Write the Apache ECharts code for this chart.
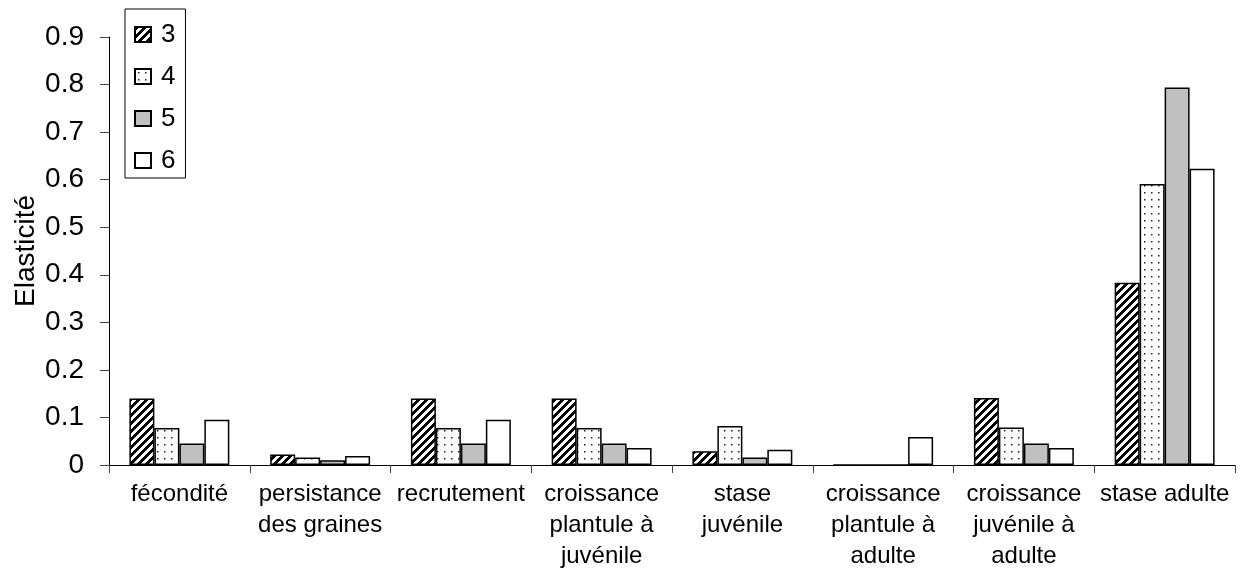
<!DOCTYPE html>
<html>
<head>
<meta charset="utf-8">
<script src="https://cdn.jsdelivr.net/npm/echarts@6/dist/echarts.min.js"></script>
<style>
html,body{margin:0;padding:0;background:#fff;}
#chart{width:1244px;height:576px;}
</style>
</head>
<body>
<div id="chart"></div>
<script>
const categories = ["fécondité", "persistance\ndes graines", "recrutement", "croissance\nplantule à\njuvénile", "stase\njuvénile", "croissance\nplantule à\nadulte", "croissance\njuvénile à\nadulte", "stase adulte"];
const seriesNames = ["3", "4", "5", "6"];
const s3 = [0.140, 0.022, 0.140, 0.140, 0.029, 0, 0.141, 0.383];
const s4 = [0.078, 0.016, 0.078, 0.078, 0.082, 0, 0.079, 0.591];
const s5 = [0.045, 0.010, 0.045, 0.045, 0.016, 0, 0.045, 0.794];
const s6 = [0.095, 0.019, 0.095, 0.036, 0.032, 0.059, 0.036, 0.623];
const yTicks = [0, 0.1, 0.2, 0.3, 0.4, 0.5, 0.6, 0.7, 0.8, 0.9];

function stripePattern() {
  const c = document.createElement('canvas');
  c.width = 8; c.height = 8;
  const ctx = c.getContext('2d');
  ctx.fillStyle = '#fff'; ctx.fillRect(0, 0, 8, 8);
  ctx.fillStyle = '#000';
  for (let x = 0; x < 8; x++) for (let y = 0; y < 8; y++) {
    if (((x + y) % 8) < 4) ctx.fillRect(x, y, 1, 1);
  }
  return c;
}
function dotPattern() {
  const c = document.createElement('canvas');
  c.width = 7; c.height = 7;
  const ctx = c.getContext('2d');
  ctx.fillStyle = '#fff'; ctx.fillRect(0, 0, 7, 7);
  ctx.fillStyle = '#222';
  ctx.fillRect(3, 3, 1.5, 1.5);
  return c;
}
const fills = [
  { image: stripePattern(), repeat: 'repeat' },
  { image: dotPattern(), repeat: 'repeat' },
  '#c0c0c0',
  '#ffffff'
];
const dataSets = [s3, s4, s5, s6];
const FONT = "'Liberation Sans', Arial, sans-serif";

const chart = echarts.init(document.getElementById('chart'), null, { renderer: 'canvas' });
chart.setOption({
  animation: false,
  backgroundColor: '#fff',
  textStyle: { fontFamily: FONT, color: '#000' },
  grid: { left: 109, right: 9, top: 37, bottom: 111, containLabel: false },
  legend: {
    orient: 'vertical',
    left: 125, top: 9,
    padding: [12, 10, 4, 9],
    itemWidth: 16, itemHeight: 15,
    itemGap: 15,
    borderColor: '#000', borderWidth: 1,
    icon: 'rect',
    textStyle: { fontSize: 26, fontFamily: FONT, color: '#000', lineHeight: 27, padding: [0, 0, 0, 5] },
    data: seriesNames
  },
  xAxis: {
    type: 'category',
    data: categories,
    axisLine: { lineStyle: { color: '#000', width: 1 } },
    axisTick: { show: true, length: 8, lineStyle: { color: '#444' } },
    axisLabel: { fontSize: 24, fontFamily: FONT, color: '#000', lineHeight: 31, margin: 14, interval: 0 }
  },
  yAxis: {
    type: 'value',
    min: 0, max: 0.9, interval: 0.1,
    name: 'Elasticité',
    nameLocation: 'middle',
    nameGap: 69,
    nameMoveOverlap: false,
    nameTextStyle: { fontSize: 28, fontFamily: FONT, color: '#000' },
    axisLine: { show: true, lineStyle: { color: '#000', width: 1 } },
    axisTick: { show: true, length: 9, lineStyle: { color: '#444' } },
    splitLine: { show: false },
    axisLabel: { fontSize: 28, fontFamily: FONT, color: '#000', margin: 25,
      formatter: v => String(Math.round(v * 10) / 10) }
  },
  series: seriesNames.map((n, i) => ({
    name: n,
    type: 'bar',
    data: dataSets[i],
    barGap: '0%',
    barCategoryGap: '29%',
    itemStyle: { color: fills[i], borderColor: '#000', borderWidth: 1.5 }
  }))
});
</script>
</body>
</html>
